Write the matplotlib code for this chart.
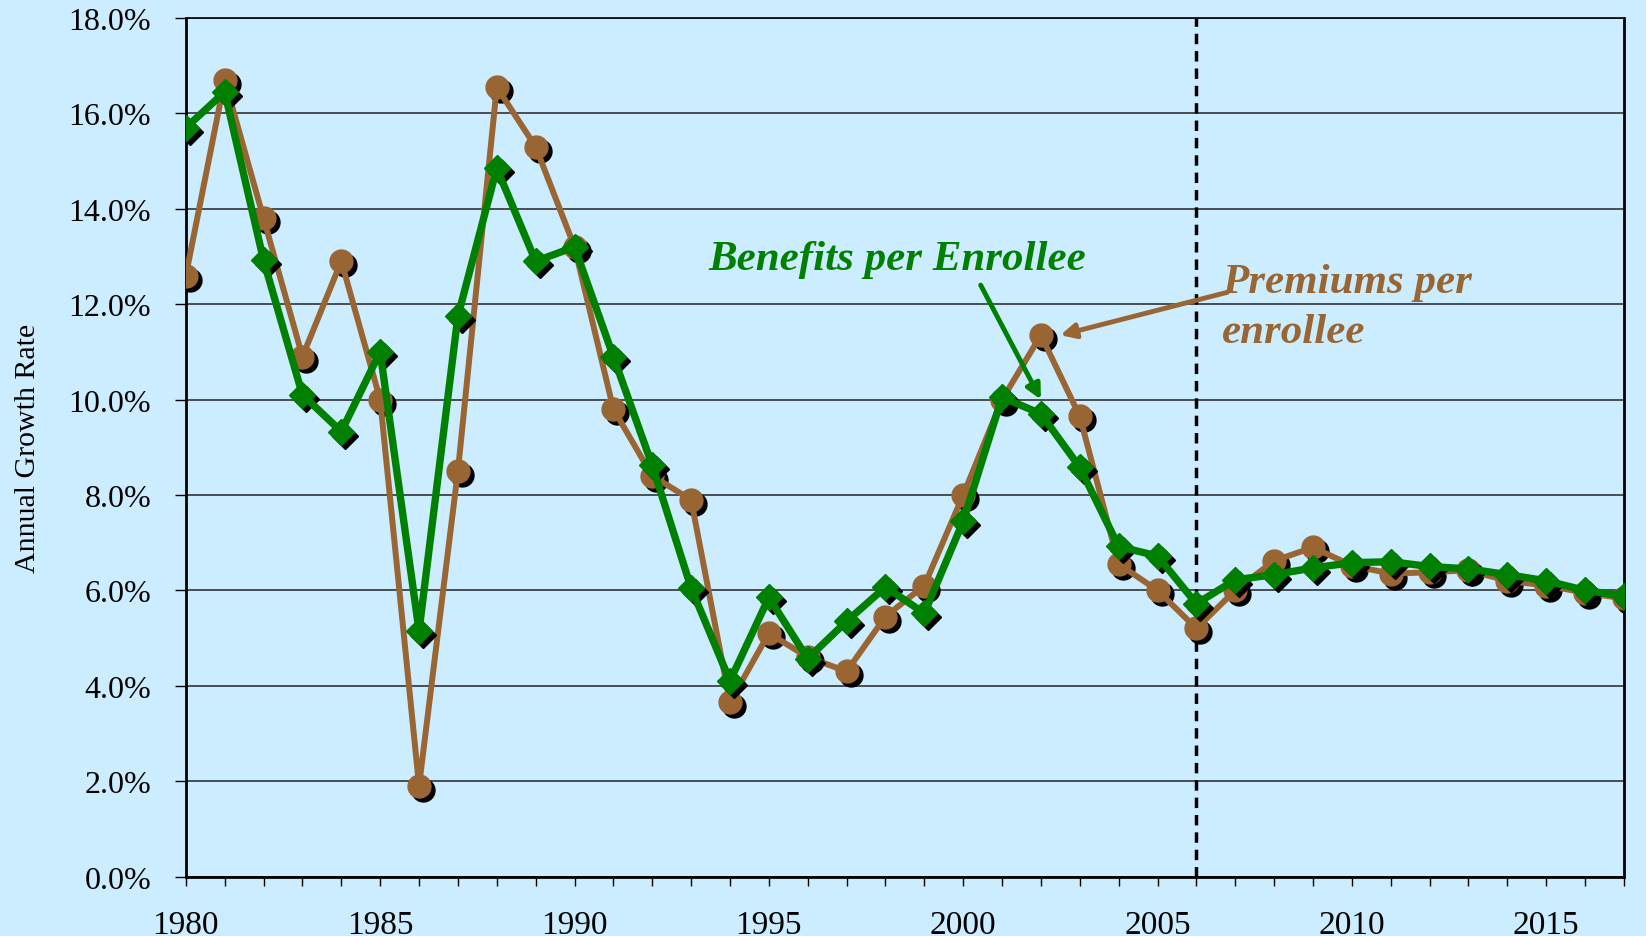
import matplotlib
matplotlib.use('Agg')
import matplotlib.pyplot as plt
import matplotlib.transforms as mtransforms
from matplotlib.ticker import MultipleLocator, FuncFormatter

# Annual growth rates (%)
years = list(range(1980, 2018))
premiums = [12.6, 16.7, 13.8, 10.9, 12.9, 10.0, 1.9, 8.5, 16.55, 15.3,
            13.2, 9.8, 8.4, 7.9, 3.65, 5.1, 4.6, 4.3, 5.45, 6.1,
            8.0, 10.0, 11.35, 9.65, 6.55, 6.0, 5.2, 6.0, 6.62, 6.9,
            6.52, 6.35, 6.38, 6.42, 6.2, 6.1, 5.95, 5.83]
benefits = [15.7, 16.45, 12.92, 10.1, 9.33, 11.0, 5.15, 11.75, 14.85, 12.9,
            13.2, 10.9, 8.62, 6.05, 4.1, 5.85, 4.57, 5.35, 6.07, 5.52,
            7.45, 10.05, 9.7, 8.58, 6.92, 6.72, 5.72, 6.22, 6.33, 6.47,
            6.58, 6.6, 6.5, 6.45, 6.33, 6.2, 6.0, 5.88]

bg = '#CCECFF'
green = '#008000'
brown = '#996633'

plt.rcParams['font.family'] = ['Liberation Serif', 'DejaVu Serif']

fig = plt.figure(figsize=(16.46, 9.37), dpi=100, facecolor=bg)
ax = fig.add_axes([0.1129, 0.0635, 0.8737, 0.9162])
ax.set_facecolor(bg)

shadow = mtransforms.offset_copy(ax.transData, fig=fig, x=4, y=-4, units='dots')

# premiums series
ax.plot(years, premiums, linestyle='none', marker='o', markersize=16.5,
        color='black', transform=shadow, zorder=3)
ax.plot(years, premiums, color=brown, linewidth=4.3, marker='o',
        markersize=16.5, zorder=4)
# benefits series
ax.plot(years, benefits, linestyle='none', marker='D', markersize=13,
        color='black', transform=shadow, zorder=5)
ax.plot(years, benefits, color=green, linewidth=5.3, marker='D',
        markersize=13, zorder=6)

ax.axvline(2006, color='black', linestyle=(0, (3, 2)), linewidth=2.5, zorder=2)

ax.set_xlim(1980, 2017)
ax.set_ylim(0, 18)
ax.yaxis.set_major_locator(MultipleLocator(2))
ax.yaxis.set_major_formatter(FuncFormatter(lambda v, p: f'{v:.1f}%'))
ax.xaxis.set_major_locator(MultipleLocator(5))
ax.xaxis.set_minor_locator(MultipleLocator(1))
ax.grid(axis='y', color='#333333', linewidth=1.2, zorder=1)
ax.set_axisbelow(True)

ax.tick_params(axis='y', length=8, width=1, pad=17, labelsize=23)
ax.tick_params(axis='x', which='both', length=6.5, width=1, pad=17, labelsize=24)
for s in ['left', 'bottom', 'right']:
    ax.spines[s].set_linewidth(2)
ax.spines['top'].set_linewidth(1.2)

ax.set_ylabel('Annual Growth Rate', fontsize=21.5, labelpad=20)

ax.annotate('', xy=(2002.0, 10.0), xytext=(2000.45, 12.4),
            arrowprops=dict(arrowstyle='-|>', color=green, lw=3.5,
                            mutation_scale=22, shrinkA=0, shrinkB=0), zorder=7)
ax.text(1998.3, 12.94, 'Benefits per Enrollee', color=green, fontsize=31,
        fontweight='bold', fontstyle='italic', ha='center', va='center', zorder=7)

ax.annotate('', xy=(2002.5, 11.35), xytext=(2006.8, 12.25),
            arrowprops=dict(arrowstyle='-|>', color=brown, lw=3.5,
                            mutation_scale=22, shrinkA=0, shrinkB=0), zorder=7)
ax.text(2006.65, 12.86, 'Premiums per\nenrollee', color=brown, fontsize=31,
        fontweight='bold', fontstyle='italic', ha='left', va='top',
        linespacing=1.4, zorder=7)

fig.savefig('out.png', dpi=100, facecolor=bg)
